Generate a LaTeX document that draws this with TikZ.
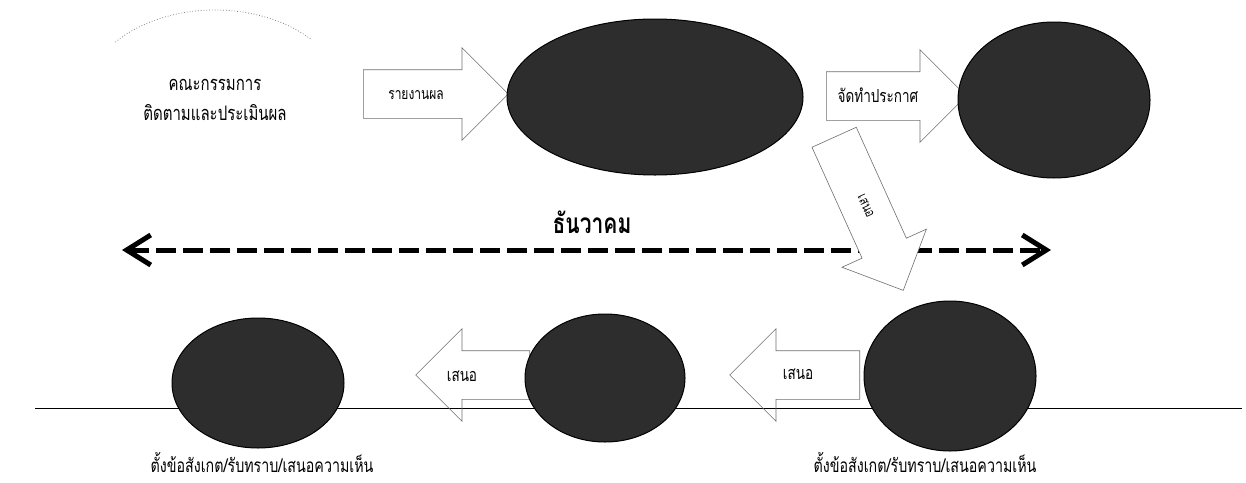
\documentclass[tikz,border=0pt]{standalone}
\usepackage{fontspec}
\newfontfamily\thaifont[Script=Thai,FakeStretch=0.75]{Loma}
\usepackage{tikz}
\usetikzlibrary{shapes.geometric,shapes.arrows,arrows.meta}
\definecolor{ovaldark}{RGB}{45,45,45}
\definecolor{arrowgray}{RGB}{110,110,110}

\begin{document}
\begin{tikzpicture}[x=1pt,y=-1pt,>={Straight Barb[length=24pt,width=30pt]},
    oval/.style={ellipse,draw=black,fill=ovaldark,line width=1pt},
    blockarrow/.style={single arrow,draw=arrowgray,line width=0.6pt,anchor=tail,
        inner xsep=0pt,inner ysep=24pt,text height=0pt,text depth=0pt,
        minimum width=0pt,single arrow head extend=22pt},
    thaitext/.style={font=\thaifont\fontsize{16pt}{19pt}\selectfont,inner sep=1pt}]
    \useasboundingbox (0,0) rectangle (1246,482);

    % Month timeline
    \node[font=\thaifont\bfseries\fontsize{28pt}{30pt}\selectfont] (month) at (592,222) {ธันวาคม};
    \draw[<->,line width=5pt,dash pattern=on 20pt off 7pt] (122,250) -- (1051,250);

    % Base line
    \draw[line width=0.8pt] (35,408) -- (1242,408);

    % Block arrows (drawn below the ovals)
    \node[blockarrow,minimum height=145pt] (report) at (363,94) {};
    \node[blockarrow,minimum height=140pt] (announce) at (826,96) {};
    \node[blockarrow,minimum height=168pt,rotate=-65.7,fill=white] (approve) at (834,137) {};
    \node[blockarrow,minimum height=114pt,rotate=180] (proposeleft) at (530,375) {};
    \node[blockarrow,minimum height=130pt,rotate=180] (proposeright) at (860,375) {};

    % Arrow labels
    \node[thaitext] (reportlabel) at (416,95) {รายงานผล};
    \node[thaitext,font=\thaifont\fontsize{18pt}{20pt}\selectfont] (announcelabel) at (878,95) {จัดทำประกาศ};
    \node[thaitext,font=\thaifont\fontsize{14pt}{16pt}\selectfont,rotate=-65.7] (approvelabel) at (866,206) {เสนอ};
    \node[thaitext,font=\thaifont\fontsize{18pt}{20pt}\selectfont] (proposeleftlabel) at (462,376) {เสนอ};
    \node[thaitext,font=\thaifont\fontsize{18pt}{20pt}\selectfont] (proposerightlabel) at (798,374) {เสนอ};

    % Committee
    \node[align=center,font=\thaifont\fontsize{20pt}{30pt}\selectfont] (committee) at (215,100) {คณะกรรมการ\\ติดตามและประเมินผล};
    \draw[gray,dotted,line width=0.8pt] (committee.center) ++(220:130 and 90) arc[start angle=220,end angle=318,x radius=130,y radius=90];

    % Ovals
    \node[oval,minimum width=296pt,minimum height=156pt] (plan) at (655,97) {};
    \node[oval,minimum width=192pt,minimum height=156pt] (notice) at (1054,100) {};
    \node[oval,minimum width=172pt,minimum height=130pt] (council) at (258,383) {};
    \node[oval,minimum width=160pt,minimum height=128pt] (board) at (605,378) {};
    \node[oval,minimum width=172pt,minimum height=150pt] (office) at (950,376) {};

    % Bottom notes
    \node[thaitext,font=\thaifont\fontsize{19pt}{21pt}\selectfont] (councilnote) at (262,462) {ตั้งข้อสังเกต/รับทราบ/เสนอความเห็น};
    \node[thaitext,font=\thaifont\fontsize{19pt}{21pt}\selectfont] (officenote) at (925,462) {ตั้งข้อสังเกต/รับทราบ/เสนอความเห็น};
\end{tikzpicture}
\end{document}
